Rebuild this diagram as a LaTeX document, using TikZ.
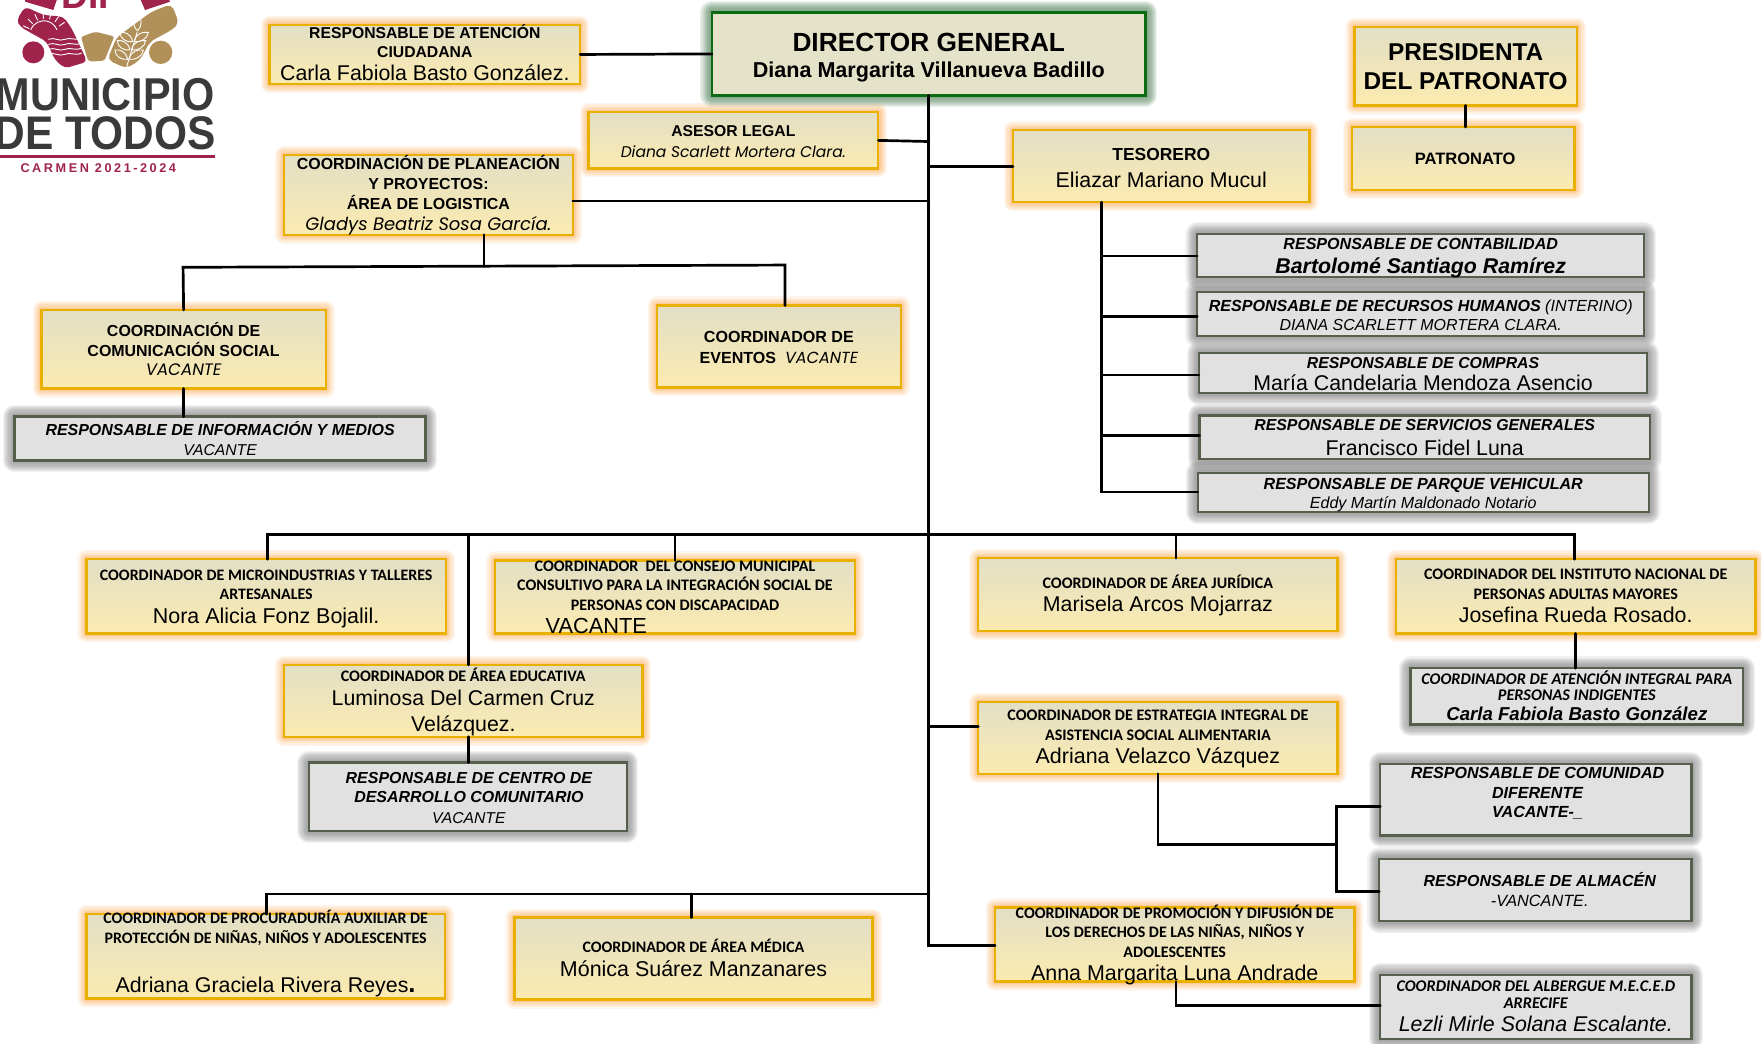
\documentclass[tikz,border=0pt]{standalone}
\usepackage{fontspec}
\setmainfont{Liberation Sans}
\newfontfamily\carl{Carlito}
\newfontfamily\popp{Poppins}
\definecolor{goldline}{HTML}{EAB000}
\definecolor{goldglow}{HTML}{F9A040}
\definecolor{boxtop}{HTML}{E2DFC6}
\definecolor{boxbot}{HTML}{FCEBB0}
\definecolor{greyline}{HTML}{565F4C}
\definecolor{greyfill}{HTML}{E1E1E1}
\definecolor{greyglow}{HTML}{6A6A6A}
\definecolor{dirline}{HTML}{0A6B12}
\definecolor{dirglow}{HTML}{2F6A38}
\definecolor{dirfill}{HTML}{E4E2C9}
\definecolor{pinkl}{HTML}{A0234B}
\definecolor{tanl}{HTML}{B29059}
\definecolor{darkl}{HTML}{3A3A3A}
\tikzset{
  glowstep/.style 2 args={preaction={draw=#1,line join=round,line width=#2pt,draw opacity=.09}},
  glowing/.style={glowstep={#1}{16},glowstep={#1}{14},glowstep={#1}{12},glowstep={#1}{10},glowstep={#1}{8},glowstep={#1}{6},glowstep={#1}{5},glowstep={#1}{4}},
  wideglow/.style={glowstep={#1}{21},glowstep={#1}{19},glowstep={#1}{17},glowstep={#1}{15},glowstep={#1}{13},glowstep={#1}{11},glowstep={#1}{9},glowstep={#1}{7},glowstep={#1}{5}},
  basebox/.style={inner sep=0pt,outer sep=0pt,line width=2.1pt},
  goldbox/.style={basebox,glowing=goldglow,draw=goldline,top color=boxtop,bottom color=boxbot},
  greybox/.style={basebox,wideglow=greyglow,draw=greyline,fill=greyfill},
  dirbox/.style={basebox,wideglow=dirglow,draw=dirline,line width=2.4pt,fill=dirfill},
  wire/.style={draw=black,line width=2.4pt,line cap=round},
  logotxt/.style={inner sep=0pt,outer sep=0pt}
}
\renewcommand{\arraystretch}{0}
% one line of a box: height of row, font size, text
\newcommand\Tx[3]{\rule[\dimexpr-#1pt*3/10\relax]{0pt}{#1pt}\fontsize{#2}{#2}\selectfont #3}
% style, name, x1, y1, x2, y2, shift down, rows
\newcommand\bx[8]{%
  \pgfmathsetmacro\bw{#5-#3}\pgfmathsetmacro\bh{#6-#4}%
  \pgfmathsetmacro\bcx{(#5+#3)/2}\pgfmathsetmacro\bcy{(#6+#4)/2}%
  \node[#1,minimum width=\bw pt,minimum height=\bh pt,font=\fontsize{1}{1}\selectfont] (#2) at (\bcx,\bcy)
   {\raisebox{\dimexpr-#7pt-3.5pt\relax}[0pt][0pt]{\begin{tabular}{@{}c@{}}#8\end{tabular}}};}
\newcommand\Cb[1]{{\carl\bfseries #1}}
\begin{document}
\begin{tikzpicture}[x=1pt,y=-1pt]
\useasboundingbox (0,0) rectangle (1568,928.7);
% logo
\begin{scope}[x=0.2968pt,y=-0.2968pt]
\clip (0,0) rectangle (700,560);
\fill[pinkl,rounded corners=4pt] (50,60) -- (75,20) -- (130,45) -- (190,50) -- (215,85) -- (262,185) -- (195,205) -- (165,180) -- (140,125) -- (95,100) -- (60,80) -- cycle;
\fill[pinkl] (75,5) -- (160,30) -- (172,-5) -- (75,-5) -- cycle;
\fill[pinkl] (420,-5) -- (435,30) -- (510,5) -- (505,-5) -- cycle;
\fill[tanl,rounded corners=3pt] (240,112) -- (285,95) -- (345,110) -- (315,182) -- (265,185) -- cycle;
\fill[tanl,rounded corners=5pt] (322,180) -- (350,112) -- (455,35) -- (515,12) -- (537,70) -- (515,90) -- (450,125) -- (420,180) -- (380,205) -- cycle;
\fill[pinkl] (100,157) circle[radius=33];
\fill[tanl] (482,157) circle[radius=35];
\draw[white,line width=.8pt] (92,90) arc[start angle=200,end angle=340,radius=42];
\foreach \a in {205,225,245,265,285,305,325} \draw[white,line width=.8pt] ([shift={(\a:52)}]135,108) -- ([shift={(\a:72)}]135,108);
\foreach \yy in {118,133,148,163} \draw[white,line width=.8pt] (145,\yy) .. controls (165,\yy-8) and (175,\yy+8) .. (195,\yy) .. controls (210,\yy-8) and (225,\yy+6) .. (245,\yy-4);
\draw[white,line width=.8pt] (412,95) -- (380,200);
\foreach \p/\q in {398/125,390/150,383/178} {\draw[white,line width=.8pt] (\p,\q) .. controls (\p-5,\q-25) and (\p-25,\q-30) .. (\p-38,\q-28) .. controls (\p-38,\q-10) and (\p-20,\q+3) .. (\p,\q);
\draw[white,line width=.8pt] (\p+4,\q) .. controls (\p+10,\q-25) and (\p+30,\q-30) .. (\p+47,\q-28) .. controls (\p+45,\q-10) and (\p+25,\q+3) .. (\p+4,\q);}
\draw[white,line width=.8pt] (412,92) .. controls (395,75) and (400,55) .. (412,45) .. controls (425,55) and (430,75) .. (412,92);
\draw[white,line width=1.2pt] (345,110) -- (315,185);
\draw[white,line width=1.2pt] (240,108) -- (262,185);
\end{scope}
\node[logotxt,anchor=base,text=pinkl,font=\fontsize{33}{33}\selectfont\bfseries] (dif) at (81.5,7.5) {DIF};
\node[logotxt,anchor=base east,text=darkl,font=\fontsize{41}{41}\selectfont\bfseries] (mun) at (191,98.5) {\scalebox{.9}[1]{MUNICIPIO}};
\node[logotxt,anchor=base east,text=darkl,font=\fontsize{42}{42}\selectfont\bfseries] (tod) at (192,133) {\scalebox{.9}[1]{DE TODOS}};
\fill[pinkl] (0,138.3) rectangle (191.5,140.8);
\node[logotxt,anchor=base,text=pinkl,font=\fontsize{11.3}{11.3}\selectfont\bfseries] (car) at (87.5,154) {\addfontfeatures{LetterSpace=20}CARMEN 2021-2024};

% named junctions
\coordinate (tAsesor) at (827,126);
\coordinate (tTeso) at (827,148);
\coordinate (tPlan) at (827,179);
\coordinate (tBus) at (827,476);
\coordinate (tEstr) at (827,647);
\coordinate (tLow) at (827,796);
\coordinate (tProm) at (827,842);
\coordinate (bMicro) at (238,476);
\coordinate (bEdu) at (417,476);
\coordinate (bCons) at (601,476);
\coordinate (bJur) at (1047,476);
\coordinate (bAdul) at (1402,476);
\coordinate (lProc) at (237,796);
\coordinate (lMed) at (616,796);
\coordinate (pl1) at (431,237);
\coordinate (pl2) at (163,238);
\coordinate (pl3) at (699,236);
\coordinate (te1) at (981,228);
\coordinate (te2) at (981,282);
\coordinate (te3) at (981,334);
\coordinate (te4) at (981,388);
\coordinate (te5) at (981,438);
\coordinate (es1) at (1031,752);
\coordinate (es2) at (1190,752);
\coordinate (es3) at (1190,718);
\coordinate (es4) at (1190,794);
\coordinate (pr1) at (1047,895);

% boxes
\bx{dirbox}{director}{634}{11}{1020}{85}{-.5}{\Tx{31}{23.4}{\bfseries DIRECTOR GENERAL}\\\Tx{20}{19.2}{\bfseries Diana Margarita Villanueva Badillo}}
\bx{goldbox}{atencion}{240}{22}{516.5}{75}{-1}{\Tx{17}{14}{\bfseries RESPONSABLE DE ATENCIÓN}\\\Tx{17}{14}{\bfseries CIUDADANA}\\\Tx{22}{19}{Carla Fabiola Basto González.}}
\bx{goldbox}{presidenta}{1206}{24}{1404}{94}{.5}{\Tx{26}{21.7}{\bfseries PRESIDENTA}\\\Tx{26}{21.7}{\bfseries DEL PATRONATO}}
\bx{goldbox}{patronato}{1204}{113}{1402}{169}{-1}{\Tx{20}{14.7}{\bfseries \hspace*{3pt}PATRONATO}}
\bx{goldbox}{asesor}{524}{100}{782}{150}{0}{\Tx{18}{14}{\bfseries ASESOR LEGAL}\\\Tx{18}{13.8}{\popp\itshape Diana Scarlett Mortera Clara.}}
\bx{goldbox}{tesorero}{902}{116}{1166}{180}{-.5}{\Tx{24}{15.5}{\bfseries TESORERO}\\\Tx{24}{19}{Eliazar Mariano Mucul}}
\bx{goldbox}{planeacion}{253}{138}{510}{209}{-1.5}{\Tx{18}{14.2}{\bfseries COORDINACIÓN DE PLANEACIÓN}\\\Tx{18}{14.2}{\bfseries Y PROYECTOS:}\\\Tx{18}{14.2}{\bfseries ÁREA DE LOGISTICA}\\\Tx{18}{16}{\popp\itshape Gladys Beatriz Sosa García.}}
\bx{goldbox}{comunicacion}{37}{276}{290}{346}{0}{\Tx{18}{14.2}{\bfseries COORDINACIÓN DE}\\\Tx{18}{14.2}{\bfseries COMUNICACIÓN SOCIAL}\\\Tx{17}{14.8}{\popp\itshape VACANTE}}
\bx{goldbox}{eventos}{585}{272}{802}{345}{0}{\Tx{18}{14.3}{\bfseries COORDINADOR DE}\\\Tx{18}{14.3}{\bfseries EVENTOS \ {\popp\mdseries\itshape VACANTE}}}
\bx{greybox}{medios}{13}{371}{379}{410}{0}{\Tx{19}{14.2}{\bfseries\itshape RESPONSABLE DE INFORMACIÓN Y MEDIOS}\\\Tx{17}{14}{\itshape VACANTE}}
\bx{greybox}{contab}{1066}{208.5}{1464}{246.7}{.5}{\Tx{17}{14.3}{\bfseries\itshape RESPONSABLE DE CONTABILIDAD}\\\Tx{23}{19}{\bfseries\itshape Bartolomé Santiago Ramírez}}
\bx{greybox}{rrhh}{1066}{260}{1464}{299}{0}{\Tx{19}{14.3}{\bfseries\itshape RESPONSABLE DE RECURSOS HUMANOS {\mdseries (INTERINO)}}\\\Tx{17}{14.2}{\itshape DIANA SCARLETT MORTERA CLARA.}}
\bx{greybox}{compras}{1067.5}{314.5}{1466.7}{350}{1}{\Tx{16}{14.1}{\bfseries\itshape RESPONSABLE DE COMPRAS}\\\Tx{22}{19}{María Candelaria Mendoza Asencio}}
\bx{greybox}{servicios}{1068}{370}{1469}{408.5}{.5}{\Tx{17}{14.1}{\bfseries\itshape RESPONSABLE DE SERVICIOS GENERALES}\\\Tx{24}{19}{Francisco Fidel Luna}}
\bx{greybox}{parque}{1066.5}{421}{1468}{456}{0}{\Tx{18}{14.3}{\bfseries\itshape RESPONSABLE DE PARQUE VEHICULAR}\\\Tx{17}{14.3}{\itshape Eddy Martín Maldonado Notario}}
\bx{goldbox}{micro}{77}{498}{397}{564}{0}{\Tx{17}{14.2}{\Cb{COORDINADOR DE MICROINDUSTRIAS Y TALLERES}}\\\Tx{17}{14.2}{\Cb{ARTESANALES}}\\\Tx{23}{19.1}{Nora Alicia Fonz Bojalil.}}
\bx{goldbox}{consejo}{441}{499}{761}{564}{.5}{\Tx{17}{14.3}{\Cb{COORDINADOR \ DEL CONSEJO MUNICIPAL}}\\\Tx{17}{14.3}{\Cb{CONSULTIVO PARA LA INTEGRACIÓN SOCIAL DE}}\\\Tx{17}{14.3}{\Cb{PERSONAS CON DISCAPACIDAD}}\\\Tx{23}{19.4}{\hspace*{-140pt}VACANTE}}
\bx{goldbox}{juridica}{871}{497}{1191}{562}{0}{\Tx{17}{14.3}{\Cb{COORDINADOR DE ÁREA JURÍDICA}}\\\Tx{23}{19}{Marisela Arcos Mojarraz}}
\bx{goldbox}{adultas}{1243}{498}{1563}{564}{-1}{\Tx{18}{14.3}{\Cb{COORDINADOR DEL INSTITUTO NACIONAL DE}}\\\Tx{18}{14.3}{\Cb{PERSONAS ADULTAS MAYORES}}\\\Tx{22}{19}{Josefina Rueda Rosado.}}
\bx{greybox}{indigentes}{1256}{595}{1552}{645}{0}{\Tx{14}{14.5}{\Cb{\itshape COORDINADOR DE ATENCIÓN INTEGRAL PARA}}\\\Tx{15}{14.5}{\Cb{\itshape PERSONAS INDIGENTES}}\\\Tx{19}{16.6}{\bfseries\itshape Carla Fabiola Basto González}}
\bx{goldbox}{educativa}{253}{592}{572}{656}{.5}{\Tx{17}{14.3}{\Cb{COORDINADOR DE ÁREA EDUCATIVA}}\\\Tx{23}{19}{Luminosa Del Carmen Cruz}\\\Tx{23}{19}{Velázquez.}}
\bx{greybox}{centro}{275}{679}{558}{740}{.5}{\Tx{17}{14.2}{\bfseries\itshape \hspace*{2pt}RESPONSABLE DE CENTRO DE}\\\Tx{17}{14.2}{\bfseries\itshape \hspace*{2pt}DESARROLLO COMUNITARIO}\\\Tx{19}{14}{\itshape \hspace*{2pt}VACANTE}}
\bx{goldbox}{estrategia}{871}{625}{1191}{689}{-1.5}{\Tx{18}{14.3}{\Cb{COORDINADOR DE ESTRATEGIA INTEGRAL DE}}\\\Tx{18}{14.3}{\Cb{ASISTENCIA SOCIAL ALIMENTARIA}}\\\Tx{22}{19.1}{Adriana Velazco Vázquez}}
\bx{greybox}{comunidad}{1229}{680}{1506}{744}{-7}{\Tx{17}{14.3}{\bfseries\itshape \hspace*{3pt}RESPONSABLE DE COMUNIDAD}\\\Tx{18}{14.3}{\bfseries\itshape \hspace*{3pt}DIFERENTE}\\\Tx{17}{14.3}{\bfseries\itshape \hspace*{3pt}VACANTE-\_}}
\bx{greybox}{almacen}{1228}{765}{1506}{820}{-1}{\Tx{20}{14.2}{\bfseries\itshape \hspace*{8pt}RESPONSABLE DE ALMACÉN}\\\Tx{17}{14.5}{\itshape \hspace*{8pt}-VANCANTE.}}
\bx{goldbox}{procuraduria}{77}{814}{396}{889}{-3.5}{\Tx{18}{14.2}{\Cb{COORDINADOR DE PROCURADURÍA AUXILIAR DE}}\\\Tx{18}{14.2}{\Cb{PROTECCIÓN DE NIÑAS, NIÑOS Y ADOLESCENTES}}\\\Tx{23}{10}{~}\\\Tx{22}{19}{Adriana Graciela Rivera Reyes{\fontsize{23}{23}\selectfont\bfseries.}}}
\bx{goldbox}{medica}{458}{817}{777}{890}{0}{\Tx{19}{14.2}{\Cb{COORDINADOR DE ÁREA MÉDICA}}\\\Tx{23}{19.1}{Mónica Suárez Manzanares}}
\bx{goldbox}{promocion}{886}{808}{1206}{874}{0}{\Tx{17}{14.25}{\Cb{COORDINADOR DE PROMOCIÓN Y DIFUSIÓN DE}}\\\Tx{17}{14.25}{\Cb{LOS DERECHOS DE LAS NIÑAS, NIÑOS Y}}\\\Tx{17}{14.25}{\Cb{ADOLESCENTES}}\\\Tx{23}{19.1}{Anna Margarita Luna Andrade}}
\bx{greybox}{albergue}{1229}{868}{1506}{925}{0}{\Tx{15}{14.5}{\Cb{\itshape COORDINADOR DEL ALBERGUE M.E.C.E.D}}\\\Tx{15}{14.5}{\Cb{\itshape ARRECIFE}}\\\Tx{23}{19}{\itshape Lezli Mirle Solana Escalante.}}

% connectors
\draw[wire] (director.south) -- (tAsesor) -- (tTeso) -- (tPlan) -- (tBus) -- (tEstr) -- (tLow) -- (tProm) -- (promocion.west |- tProm);
\draw[wire] (atencion.east) -- (director.west);
\draw[wire] (presidenta.south) -- (patronato.north -| presidenta.south);
\draw[wire] (asesor.east) -- (tAsesor);
\draw[wire] (tesorero.west |- tTeso) -- (tTeso);
\draw[wire] (planeacion.east |- tPlan) -- (tPlan);
\draw[wire] (pl1 |- planeacion.south) -- (pl1);
\draw[wire] (comunicacion.north) -- (pl2) -- (pl1) -- (pl3) -- (eventos.north -| pl3);
\draw[wire] (comunicacion.south) -- (medios.north -| comunicacion.south);
\draw[wire] (te1 |- tesorero.south) -- (te5) -- (parque.west |- te5);
\draw[wire] (te1) -- (contab.west |- te1);
\draw[wire] (te2) -- (rrhh.west |- te2);
\draw[wire] (te3) -- (compras.west |- te3);
\draw[wire] (te4) -- (servicios.west |- te4);
\draw[wire] (micro.north -| bMicro) -- (bMicro) -- (bAdul) -- (adultas.north -| bAdul);
\draw[wire] (bEdu) -- (educativa.north -| bEdu);
\draw[wire] (bCons) -- (consejo.north -| bCons);
\draw[wire] (bJur) -- (juridica.north -| bJur);
\draw[wire] (educativa.south -| bEdu) -- (centro.north -| bEdu);
\draw[wire] (adultas.south) -- (indigentes.north -| adultas.south);
\draw[wire] (tEstr) -- (estrategia.west |- tEstr);
\draw[wire] (es1 |- estrategia.south) -- (es1) -- (es2);
\draw[wire] (comunidad.west |- es3) -- (es3) -- (es4) -- (almacen.west |- es4);
\draw[wire] (procuraduria.north -| lProc) -- (lProc) -- (tLow);
\draw[wire] (lMed) -- (medica.north -| lMed);
\draw[wire] (pr1 |- promocion.south) -- (pr1) -- (albergue.west |- pr1);
\end{tikzpicture}
\end{document}
